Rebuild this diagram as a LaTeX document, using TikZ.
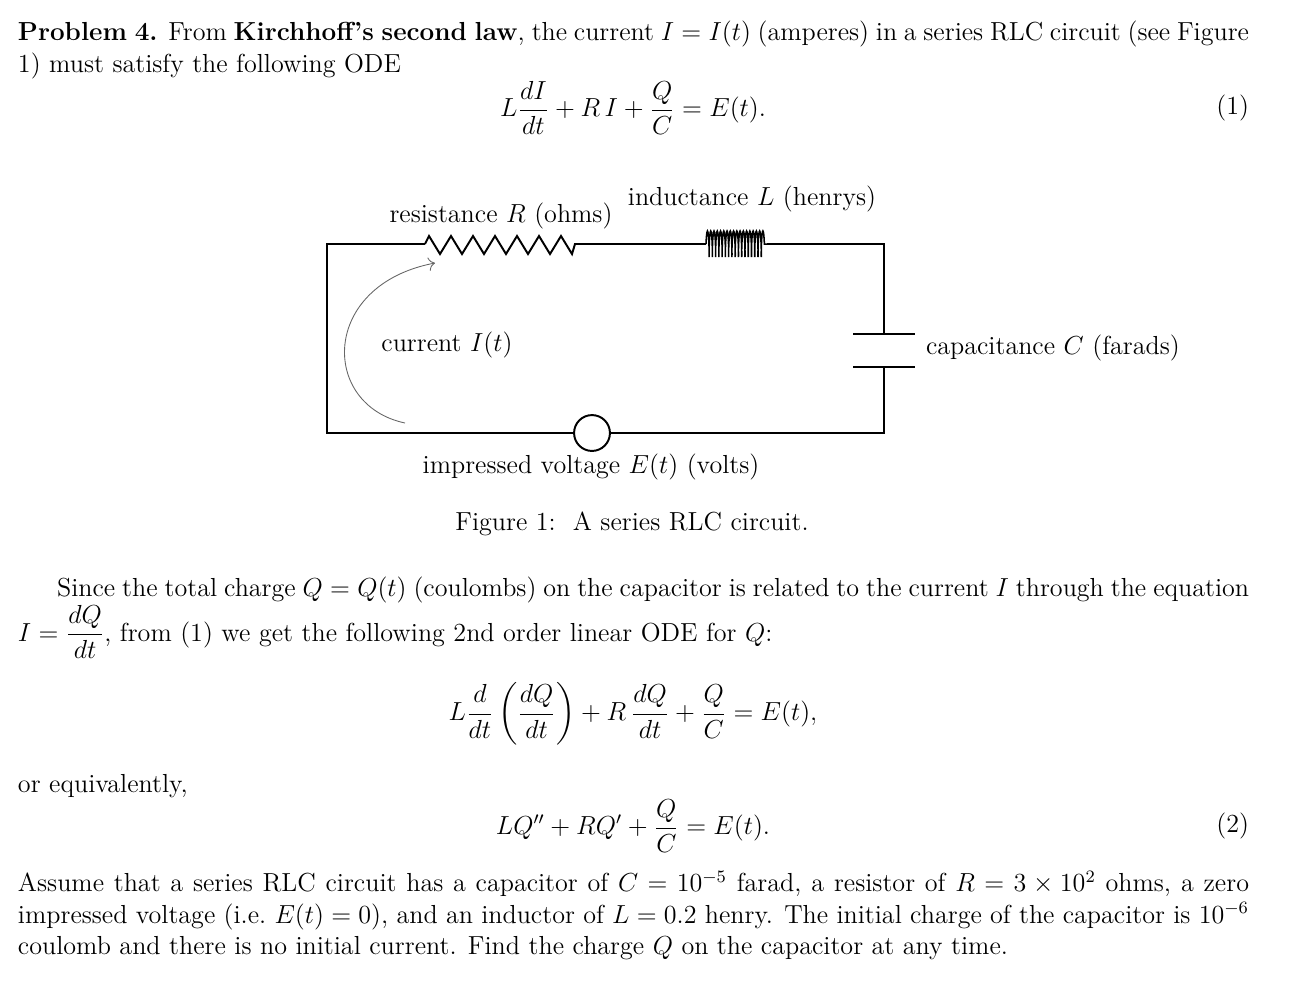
\documentclass[tikz,border=0pt,12pt]{standalone}
\usepackage{amsmath}
\usetikzlibrary{decorations.pathmorphing,arrows.meta}
\begin{document}
\begin{tikzpicture}[x=0.46pt,y=-0.46pt,
  txt/.style={inner sep=0pt,outer sep=0pt},
  par/.style={txt,anchor=north west,text width=566.3pt,align=justify},
  wire/.style={line width=0.9pt},
  lbl/.style={txt}]
\useasboundingbox (0,0) rectangle (1289,1001);
\node[par] (p1) at (18,21) {\parindent=0pt\hyphenpenalty=10000\textbf{Problem 4.} From \textbf{Kirchhoff's second law}, the current $I=I(t)$ (amperes) in a series RLC circuit (see Figure\linebreak 1) must satisfy the following ODE};
\node[txt] (e1) at (633,108) {$\displaystyle L\frac{dI}{dt}+R\,I+\frac{Q}{C}=E(t).$};
\node[txt,anchor=east] (n1) at (1249,108) {(1)};
% circuit
\coordinate (tl) at (327,244); \coordinate (tr) at (884,244);
\coordinate (bl) at (327,433); \coordinate (br) at (884,433);
\coordinate (r1) at (425,244); \coordinate (r2) at (578,244);
\coordinate (l1) at (706,244); \coordinate (l2) at (767,244);
\coordinate (c1) at (884,334); \coordinate (c2) at (884,367);
\node[circle,draw,wire,minimum size=16.5pt,inner sep=0pt] (src) at (592,433) {};
\draw[wire] (src.east) -- (br) -- (c2);
\draw[wire] (c1) -- (tr) -- (l2);
\draw[wire] (l1) -- (r2);
\draw[wire] (src.west) -- (bl) -- (tl) -- (r1);
\draw[wire] (r1) -- (429,236) -- (440,254) -- (451,236) -- (462,254) -- (473,236) -- (484,254) -- (495,236) -- (506,254) -- (517,236) -- (528,254) -- (539,236) -- (550,254) -- (561,236) -- (572,254) -- (575,244) -- (r2);
\draw[line width=0.7pt,decorate,decoration={coil,aspect=0.05,segment length=1.5pt,amplitude=6pt}] (l1) -- (l2);
\draw[wire] (853,334) -- (915,334);
\draw[wire] (853,367) -- (915,367);
\draw[gray!80!black,line width=0.4pt,-{To[length=3pt]}] (405,423) .. controls (320,405) and (320,285) .. (435,263);
\node[lbl] (lr) at (501,216) {resistance $R$ (ohms)};
\node[lbl] (ll) at (752,199) {inductance $L$ (henrys)};
\node[lbl] (li) at (447,345) {current $I(t)$};
\node[lbl,anchor=west] (lc) at (926,348) {capacitance $C$ (farads)};
\node[lbl] (lv) at (591,467) {impressed voltage $E(t)$ (volts)};
\node[lbl] (cap) at (632,524) {Figure 1:\ \ A series RLC circuit.};
% text
\node[par] (p2) at (18,577) {\parindent=18pt\indent Since the total charge $Q=Q(t)$ (coulombs) on the capacitor is related to the current $I$ through the equation\linebreak $I=\dfrac{dQ}{dt}$, from (1) we get the following 2nd order linear ODE for $Q$:};
\node[txt] (e2) at (633,714) {$\displaystyle L\frac{d}{dt}\left(\frac{dQ}{dt}\right)+R\,\frac{dQ}{dt}+\frac{Q}{C}=E(t),$};
\node[txt,anchor=base west] (oe) at (18,792) {or equivalently,};
\node[txt] (e3) at (633,826) {$\displaystyle LQ''+RQ'+\frac{Q}{C}=E(t).$};
\node[txt,anchor=east] (n2) at (1249,826) {(2)};
\node[par] (p3) at (18,871) {\parindent=0pt Assume that a series RLC circuit has a capacitor of $C=10^{-5}$ farad, a resistor of $R=3\times10^{2}$ ohms, a zero\linebreak impressed voltage (i.e.\ $E(t)=0$), and an inductor of $L=0.2$ henry. The initial charge of the capacitor is $10^{-6}$\linebreak coulomb and there is no initial current. Find the charge $Q$ on the capacitor at any time.};
\end{tikzpicture}
\end{document}
